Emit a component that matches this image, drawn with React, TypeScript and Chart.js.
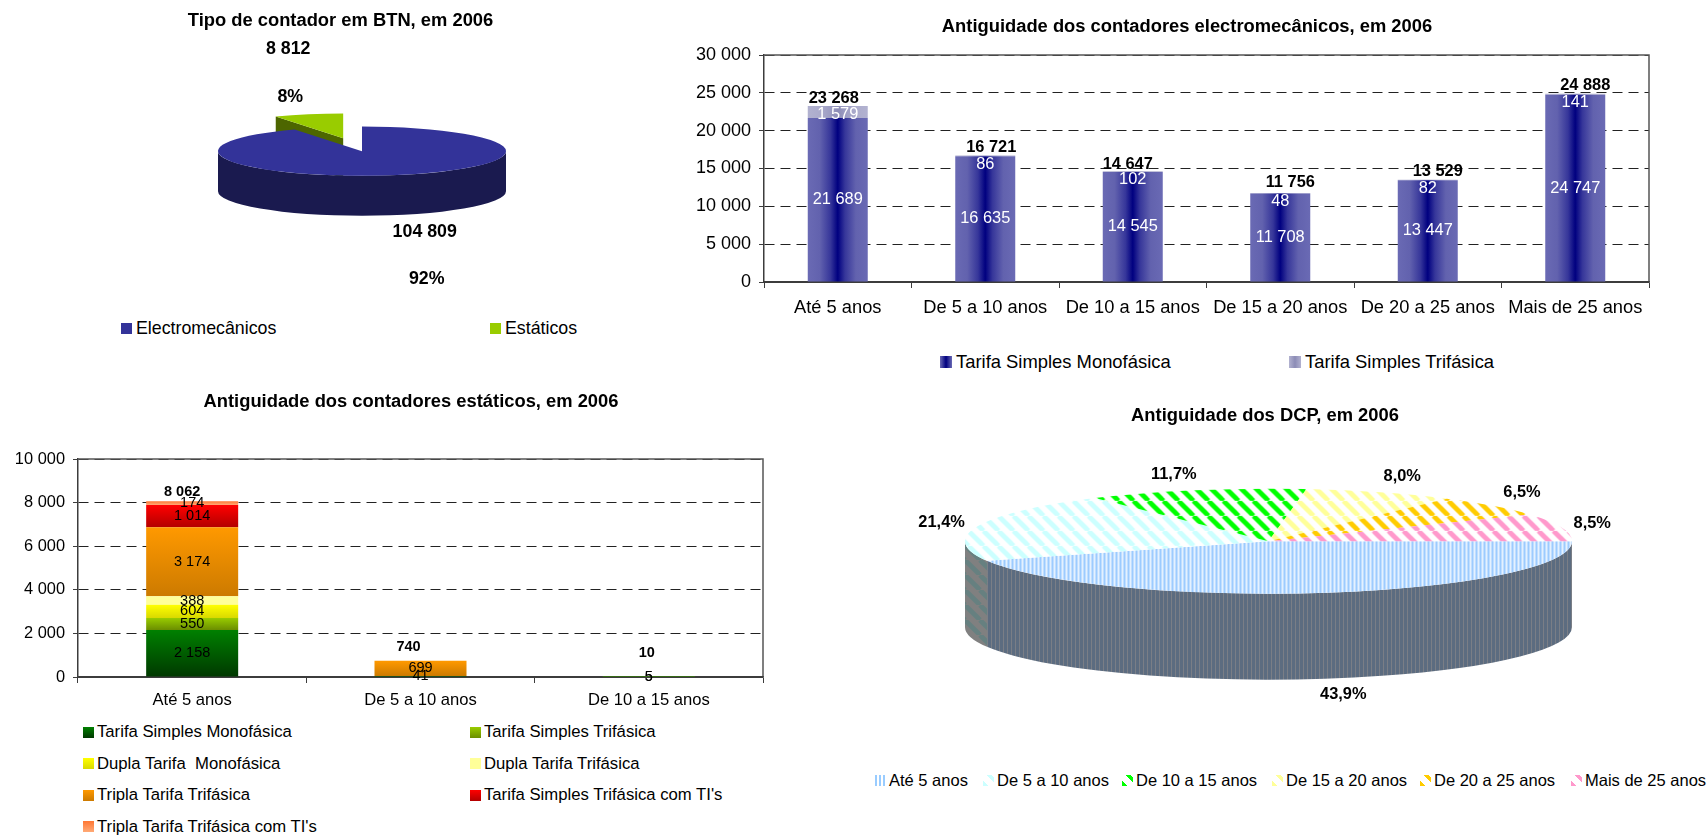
import { useEffect, useRef } from 'react';
import { Chart, registerables } from 'chart.js';

Chart.register(...registerables);

// ---- data ----
const meterTypes = ['Electromecânicos', 'Estáticos'];
const meterTypeCounts = [104809, 8812];

const electroBands = ['Até 5 anos', 'De 5 a 10 anos', 'De 10 a 15 anos', 'De 15 a 20 anos', 'De 20 a 25 anos', 'Mais de 25 anos'];
const electroSeriesNames = ['Tarifa Simples Monofásica', 'Tarifa Simples Trifásica'];
const electroMono = [21689, 16635, 14545, 11708, 13447, 24747];
const electroTri = [1579, 86, 102, 48, 82, 141];
const electroTotals = [23268, 16721, 14647, 11756, 13529, 24888];

const staticBands = ['Até 5 anos', 'De 5 a 10 anos', 'De 10 a 15 anos'];
const staticSeriesNames = [
  'Tarifa Simples Monofásica',
  'Tarifa Simples Trifásica',
  'Dupla Tarifa  Monofásica',
  'Dupla Tarifa Trifásica',
  'Tripla Tarifa Trifásica',
  "Tarifa Simples Trifásica com TI's",
  "Tripla Tarifa Trifásica com TI's",
];
const staticSimpleMono = [2158, 41, 5];
const staticSimpleTri = [550, 0, 0];
const staticDualMono = [604, 0, 0];
const staticDualTri = [388, 0, 0];
const staticTripleTri = [3174, 699, 5];
const staticSimpleTriTI = [1014, 0, 0];
const staticTripleTriTI = [174, 0, 0];
const staticTotals = [8062, 740, 10];

const dcpBands = ['Até 5 anos', 'De 5 a 10 anos', 'De 10 a 15 anos', 'De 15 a 20 anos', 'De 20 a 25 anos', 'Mais de 25 anos'];
const dcpShares = [43.9, 21.4, 11.7, 8.0, 6.5, 8.5];

// ---- styles ----
const FONT = '"Liberation Sans", Arial, sans-serif';
const TITLE_SIZE = 18.35;
const AXIS_COLOR = '#3c3c3c';

// Colour ramps from a bar's edge to its centre line.
const electroRamps = [
  ['#6A6AB4', '#6262AE', '#36369A', '#000080'],
  ['#B2B2D0', '#ACACCC', '#9C9CC2', '#8C8CB6'],
];
const rampStops = [0, 0.2, 0.38, 0.5];
const staticGradients = [
  ['#008000', '#003800'],
  ['#99CC00', '#6B8E00'],
  ['#FFFF00', '#D9D900'],
  ['#FFFF99', '#FFFF99'],
  ['#FF9900', '#CC7A00'],
  ['#FF0000', '#B30000'],
  ['#FF7733', '#FFAA77'],
];
const dcpStripeColors = ['#A3CFFF', '#CCFFFF', '#00FF00', '#FFFF99', '#FFCC00', '#FF99CC'];
const dcpWallColors = ['#5C6C80', '#668080', '#008000', '#808040', '#806600', '#804C66'];

// Where each pie label sits relative to its slice's point on the rim.
const meterLabelOffsets = [
  [[28, 57], [30, 104]],
  [[-39, -78], [-37, -30]],
];
const dcpLabelOffsets = [[17, 102], [-36, -4], [-22, -16], [22, -16], [29, -13], [31, -4]];
const electroTotalNudge = [[-4, -7.5], [6, -8.5], [-5, -6.5], [10, -10.5], [10, -8.5], [10, -8.5]];
const staticTotalNudge = [[-10, -9.5], [-12, -13.5], [-2, -23.5]];

const spaced = (n: number) => String(n).replace(/\B(?=(\d{3})+$)/g, ' ');

function stripeTile(draw: (t: CanvasRenderingContext2D, size: number) => void, size: number) {
  const tile = document.createElement('canvas');
  tile.width = size;
  tile.height = size;
  draw(tile.getContext('2d') as CanvasRenderingContext2D, size);
  return tile;
}

function diagonalPattern(ctx: CanvasRenderingContext2D, fg: string, bg: string, yScale = 1) {
  const tile = stripeTile((t, s) => {
    t.fillStyle = bg;
    t.fillRect(0, 0, s, s);
    t.strokeStyle = fg;
    t.lineWidth = 4.8;
    for (let k = -1; k <= 1; k++) {
      t.beginPath();
      t.moveTo(k * s, 0);
      t.lineTo(k * s + s, s);
      t.stroke();
    }
  }, 15);
  const p = ctx.createPattern(tile, 'repeat') as CanvasPattern;
  p.setTransform(new DOMMatrix().scale(1, yScale));
  return p;
}

function verticalPattern(ctx: CanvasRenderingContext2D, a: string, b: string, aWidth: number, yScale = 1) {
  const tile = stripeTile((t, s) => {
    t.fillStyle = b;
    t.fillRect(0, 0, s, s);
    t.fillStyle = a;
    t.fillRect(0, 0, aWidth, s);
  }, 4);
  const p = ctx.createPattern(tile, 'repeat') as CanvasPattern;
  p.setTransform(new DOMMatrix().scale(1, yScale));
  return p;
}

// Draws a pie controller's slices as a tilted disc with a visible wall below it.
function tiltedPie(o: {
  ratio: number;
  depth: number;
  shiftX: number;
  explode: number[];
  wall: (i: number) => string | CanvasPattern;
  labels: (i: number) => { text: string; dx: number; dy: number }[];
  fontSize: number;
}) {
  return {
    id: 'tiltedPie',
    beforeDatasetDraw(chart: any, args: any) {
      const ctx = chart.ctx as CanvasRenderingContext2D;
      const arcs = args.meta.data;
      const order = arcs.map((_: any, i: number) => i).sort((a: number, b: number) => o.explode[b] - o.explode[a]);
      order.forEach((i: number) => {
        const arc = arcs[i];
        const start = arc.startAngle;
        const end = arc.endAngle;
        const half = (start + end) / 2;
        const R = arc.outerRadius;
        const r = R * o.ratio;
        const ox = arc.x + o.shiftX + Math.cos(half) * o.explode[i];
        const oy = arc.y + Math.sin(half) * o.explode[i] * o.ratio;
        ctx.save();
        ctx.fillStyle = o.wall(i);
        if (o.explode[i] > 0) {
          [start, end].forEach((t: number) => {
            const px = ox + R * Math.cos(t);
            const py = oy + r * Math.sin(t);
            ctx.beginPath();
            ctx.moveTo(ox, oy);
            ctx.lineTo(px, py);
            ctx.lineTo(px, py + o.depth);
            ctx.lineTo(ox, oy + o.depth);
            ctx.closePath();
            ctx.fill();
          });
        }
        for (let k = -1; k <= 1; k++) {
          const a = Math.max(start + k * 2 * Math.PI, 0);
          const b = Math.min(end + k * 2 * Math.PI, Math.PI);
          if (b > a) {
            ctx.beginPath();
            ctx.ellipse(ox, oy, R, r, 0, a, b);
            ctx.ellipse(ox, oy + o.depth, R, r, 0, b, a, true);
            ctx.closePath();
            ctx.fill();
          }
        }
        ctx.translate(ox, oy);
        ctx.scale(1, o.ratio);
        ctx.translate(-arc.x, -arc.y);
        arc.draw(ctx);
        ctx.restore();
      });
      return false;
    },
    afterDraw(chart: any) {
      const ctx = chart.ctx as CanvasRenderingContext2D;
      const arcs = chart.getDatasetMeta(0).data;
      ctx.save();
      ctx.fillStyle = '#000';
      ctx.font = `bold ${o.fontSize}px ${FONT}`;
      ctx.textAlign = 'center';
      ctx.textBaseline = 'middle';
      arcs.forEach((arc: any, i: number) => {
        const half = (arc.startAngle + arc.endAngle) / 2;
        const rimX = arc.x + o.shiftX + arc.outerRadius * Math.cos(half);
        const rimY = arc.y + arc.outerRadius * o.ratio * Math.sin(half);
        o.labels(i).forEach((l) => ctx.fillText(l.text, rimX + l.dx, rimY + l.dy));
      });
      ctx.restore();
    },
  };
}

// Closes the plot area on its top and right sides and firms up the baseline.
const plotFrame = {
  id: 'plotFrame',
  beforeDatasetsDraw(chart: any) {
    const { ctx, chartArea: a } = chart;
    ctx.save();
    ctx.strokeStyle = '#555';
    ctx.lineWidth = 1.5;
    ctx.beginPath();
    ctx.moveTo(a.left, a.top);
    ctx.lineTo(a.right, a.top);
    ctx.lineTo(a.right, a.bottom);
    ctx.stroke();
    ctx.strokeStyle = AXIS_COLOR;
    ctx.lineWidth = 2;
    ctx.beginPath();
    ctx.moveTo(a.left, a.bottom);
    ctx.lineTo(a.right, a.bottom);
    ctx.stroke();
    ctx.restore();
  },
};

// Moves the title sideways without touching the plot area.
function titleShift(dx: number) {
  return {
    id: 'titleShift',
    afterLayout(chart: any) {
      chart.titleBlock.left += dx;
      chart.titleBlock.right += dx;
    },
  };
}

// Writes each segment's value inside it and the stack total above it.
function stackLabels(o: {
  color: string;
  fontSize: number;
  thinLimit: number;
  thinDrop: number;
  totals: number[];
  nudge: number[][];
}) {
  return {
    id: 'stackLabels',
    afterDatasetsDraw(chart: any) {
      const ctx = chart.ctx as CanvasRenderingContext2D;
      ctx.save();
      ctx.textAlign = 'center';
      ctx.textBaseline = 'middle';
      ctx.font = `${o.fontSize}px ${FONT}`;
      ctx.fillStyle = o.color;
      chart.data.datasets.forEach((ds: any, d: number) => {
        chart.getDatasetMeta(d).data.forEach((bar: any, i: number) => {
          const v = ds.data[i];
          if (!v) return;
          const h = Math.abs(bar.base - bar.y);
          const y = h < o.thinLimit ? bar.y + o.thinDrop : (bar.y + bar.base) / 2;
          ctx.fillText(spaced(v), bar.x, y);
        });
      });
      ctx.font = `bold ${o.fontSize}px ${FONT}`;
      ctx.fillStyle = '#000';
      o.totals.forEach((t, i) => {
        const x = chart.scales.x.getPixelForValue(i) + o.nudge[i][0];
        const y = chart.scales.y.getPixelForValue(t) + o.nudge[i][1];
        ctx.fillText(spaced(t), x, y);
      });
      ctx.restore();
    },
  };
}

function titleOptions(text: string, top: number, bottom: number) {
  return {
    display: true,
    text,
    color: '#000',
    font: { family: FONT, size: TITLE_SIZE, weight: 'bold' as const, lineHeight: 1.2 },
    padding: { top, bottom },
  };
}

function barScales(o: { max: number; step: number; font: number; xFont: number; yWidth: number; xHeight: number; xPad: number }) {
  return {
    x: {
      stacked: true,
      afterFit: (s: any) => { s.height = o.xHeight; },
      border: { color: AXIS_COLOR, width: 1.5 },
      grid: { drawOnChartArea: false, tickLength: 6, tickColor: AXIS_COLOR, offset: true },
      ticks: { color: '#000', padding: o.xPad, maxRotation: 0, autoSkip: false, font: { family: FONT, size: o.xFont } },
    },
    y: {
      stacked: true,
      min: 0,
      max: o.max,
      afterFit: (s: any) => { s.width = o.yWidth; },
      border: { color: AXIS_COLOR, width: 1.5, dash: [10, 6] },
      grid: { color: '#222', lineWidth: 1, tickLength: 5, tickColor: AXIS_COLOR, tickBorderDash: [1, 0] },
      ticks: { stepSize: o.step, color: '#000', padding: 8, font: { family: FONT, size: o.font }, callback: (v: any) => spaced(Number(v)) },
    },
  };
}

function MeterTypePie() {
  return (
    <ChartCanvas
      left={0} top={0} width={681} height={300}
      build={() => ({
        type: 'pie',
        data: {
          labels: meterTypes,
          datasets: [{ data: meterTypeCounts, backgroundColor: ['#333399', '#99CC00'], borderWidth: 0 }],
        },
        options: {
          responsive: false,
          animation: false,
          events: [],
          radius: 144,
          layout: { padding: { bottom: 29.7 } },
          plugins: {
            legend: { display: false },
            tooltip: { enabled: false },
            title: titleOptions('Tipo de contador em BTN, em 2006', 10, 0),
          },
        },
        plugins: [tiltedPie({
          ratio: 0.171,
          depth: 40,
          shiftX: 21.5,
          explode: [0, 78],
          wall: (i) => ['#1A1A4F', '#4D6600'][i],
          fontSize: 17.8,
          labels: (i) => {
            const total = meterTypeCounts[0] + meterTypeCounts[1];
            const texts = [spaced(meterTypeCounts[i]), `${Math.round((meterTypeCounts[i] / total) * 100)}%`];
            return texts.map((text, k) => ({ text, dx: meterLabelOffsets[i][k][0], dy: meterLabelOffsets[i][k][1] }));
          },
        })],
      })}
    />
  );
}

function ElectroBars() {
  const pct = 60 / 147.5;
  const fill = (series: number) => (c: any) => {
    const ramp = electroRamps[series];
    if (c.dataIndex === undefined || !c.chart.chartArea) return ramp[0];
    const x = c.chart.scales.x;
    const cx = x.getPixelForValue(c.dataIndex);
    const half = (x.width / electroBands.length) * pct * 0.5;
    const g = c.chart.ctx.createLinearGradient(cx - half, 0, cx + half, 0);
    ramp.forEach((color, k) => {
      g.addColorStop(rampStops[k], color);
      g.addColorStop(1 - rampStops[k], color);
    });
    return g;
  };
  return (
    <ChartCanvas
      left={690} top={0} width={1000} height={330}
      build={() => ({
        type: 'bar',
        data: {
          labels: electroBands,
          datasets: [
            { label: electroSeriesNames[0], data: electroMono, backgroundColor: fill(0), borderWidth: 0, barPercentage: pct, categoryPercentage: 1 },
            { label: electroSeriesNames[1], data: electroTri, backgroundColor: fill(1), borderWidth: 0, barPercentage: pct, categoryPercentage: 1 },
          ],
        },
        options: {
          responsive: false,
          animation: false,
          events: [],
          layout: { padding: { right: 41 } },
          scales: barScales({ max: 30000, step: 5000, font: 18, xFont: 18.3, yWidth: 74, xHeight: 48, xPad: 9 }),
          plugins: {
            legend: { display: false },
            tooltip: { enabled: false },
            title: titleOptions('Antiguidade dos contadores electromecânicos, em 2006', 16, 17),
          },
        },
        plugins: [titleShift(17.5), plotFrame, stackLabels({ color: '#fff', fontSize: 16.4, thinLimit: 14, thinDrop: 8.5, totals: electroTotals, nudge: electroTotalNudge })],
      })}
    />
  );
}

function StaticBars() {
  const pct = 92 / 228.3;
  const seriesData = [staticSimpleMono, staticSimpleTri, staticDualMono, staticDualTri, staticTripleTri, staticSimpleTriTI, staticTripleTriTI];
  const fill = (series: number) => (c: any) => {
    const [topColor, bottomColor] = staticGradients[series];
    if (c.dataIndex === undefined || !c.chart.chartArea) return topColor;
    let below = 0;
    for (let s = 0; s < series; s++) below += seriesData[s][c.dataIndex];
    const y = c.chart.scales.y;
    const y0 = y.getPixelForValue(below + seriesData[series][c.dataIndex]);
    const y1 = y.getPixelForValue(below);
    if (y1 - y0 < 0.01) return topColor;
    const g = c.chart.ctx.createLinearGradient(0, y0, 0, y1);
    g.addColorStop(0, topColor);
    g.addColorStop(1, bottomColor);
    return g;
  };
  return (
    <ChartCanvas
      left={0} top={380} width={800} height={340}
      build={() => ({
        type: 'bar',
        data: {
          labels: staticBands,
          datasets: seriesData.map((data, s) => ({
            label: staticSeriesNames[s],
            data,
            backgroundColor: fill(s),
            borderWidth: 0,
            barPercentage: pct,
            categoryPercentage: 1,
          })),
        },
        options: {
          responsive: false,
          animation: false,
          events: [],
          layout: { padding: { right: 37 } },
          scales: barScales({ max: 10000, step: 2000, font: 16.4, xFont: 16.6, yWidth: 78, xHeight: 43, xPad: 7.4 }),
          plugins: {
            legend: { display: false },
            tooltip: { enabled: false },
            title: titleOptions('Antiguidade dos contadores estáticos, em 2006', 11, 46),
          },
        },
        plugins: [titleShift(29.5), plotFrame, stackLabels({ color: '#000', fontSize: 14.5, thinLimit: 0, thinDrop: 0, totals: staticTotals, nudge: staticTotalNudge })],
      })}
    />
  );
}

function DcpPie() {
  const ratio = 0.173;
  return (
    <ChartCanvas
      left={860} top={395} width={810} height={310}
      build={(ctx) => {
        const squash = 1 / ratio;
        const tops = dcpStripeColors.map((color, i) =>
          i === 0 ? verticalPattern(ctx, '#9CCBFF', '#E4F1FF', 2, squash) : diagonalPattern(ctx, color, '#FFFFFF', squash),
        );
        const walls = dcpWallColors.map((color, i) =>
          i === 0 ? verticalPattern(ctx, '#5C6C80', '#7A7E86', 3) : diagonalPattern(ctx, color, '#808080'),
        );
        return {
          type: 'pie',
          data: { labels: dcpBands, datasets: [{ data: dcpShares, backgroundColor: tops, borderWidth: 0 }] },
          options: {
            responsive: false,
            animation: false,
            events: [],
            radius: 303.5,
            rotation: 90,
            layout: { padding: { bottom: 49.7 } },
            plugins: {
              legend: { display: false },
              tooltip: { enabled: false },
              title: titleOptions('Antiguidade dos DCP, em 2006', 10, 0),
            },
          },
          plugins: [tiltedPie({
            ratio,
            depth: 86,
            shiftX: 3.5,
            explode: dcpShares.map(() => 0),
            wall: (i) => walls[i],
            fontSize: 16.4,
            labels: (i) => [{
              text: `${dcpShares[i].toFixed(1).replace('.', ',')}%`,
              dx: dcpLabelOffsets[i][0],
              dy: dcpLabelOffsets[i][1],
            }],
          })],
        };
      }}
    />
  );
}

function ChartCanvas(p: { left: number; top: number; width: number; height: number; build: (ctx: CanvasRenderingContext2D) => any }) {
  const ref = useRef<HTMLCanvasElement | null>(null);
  useEffect(() => {
    const canvas = ref.current as HTMLCanvasElement;
    const chart = new Chart(canvas, p.build(canvas.getContext('2d') as CanvasRenderingContext2D));
    return () => chart.destroy();
  }, []);
  return (
    <canvas
      ref={ref}
      width={p.width}
      height={p.height}
      style={{ position: 'absolute', left: p.left, top: p.top, width: p.width, height: p.height }}
    />
  );
}

function LegendEntry(p: { x: number; y: number; size: number; gap: number; swatch: string; text: string; font: number }) {
  return (
    <>
      <div style={{ position: 'absolute', left: p.x, top: p.y - p.size / 2, width: p.size, height: p.size, background: p.swatch }} />
      <div
        style={{
          position: 'absolute',
          left: p.x + p.gap,
          top: p.y,
          transform: 'translateY(-50%)',
          font: `${p.font}px ${FONT}`,
          color: '#000',
          whiteSpace: 'pre',
        }}
      >
        {p.text}
      </div>
    </>
  );
}

const dcpSwatches = [
  'repeating-linear-gradient(90deg, #99CCFF 0 2px, #fff 2px 4px)',
  'repeating-linear-gradient(45deg, #CCFFFF 0 4px, #fff 4px 10px)',
  'repeating-linear-gradient(45deg, #00FF00 0 4px, #fff 4px 10px)',
  'repeating-linear-gradient(45deg, #FFFF99 0 4px, #fff 4px 10px)',
  'repeating-linear-gradient(45deg, #FFCC00 0 4px, #fff 4px 10px)',
  'repeating-linear-gradient(45deg, #FF99CC 0 4px, #fff 4px 10px)',
];
const dcpLegendX = [875, 983, 1122, 1272, 1420, 1571];

export default function App() {
  return (
    <div style={{ position: 'absolute', left: 0, top: 0, width: 1708, height: 836, background: '#fff', overflow: 'hidden' }}>
      <MeterTypePie />
      <ElectroBars />
      <StaticBars />
      <DcpPie />

      {meterTypes.map((name, i) => (
        <LegendEntry key={name} x={[121, 490][i]} y={328} size={11} gap={15} font={17.8} swatch={['#333399', '#99CC00'][i]} text={name} />
      ))}
      {electroSeriesNames.map((name, i) => (
        <LegendEntry
          key={name}
          x={[940, 1289][i]} y={362} size={12} gap={16} font={18.4}
          swatch={`linear-gradient(90deg, ${electroRamps[i][0]}, ${electroRamps[i][3]}, ${electroRamps[i][0]})`}
          text={name}
        />
      ))}
      {staticSeriesNames.map((name, i) => (
        <LegendEntry
          key={name}
          x={[83, 470][i % 2]} y={732 + 31.5 * Math.floor(i / 2)} size={11} gap={14} font={16.7}
          swatch={`linear-gradient(180deg, ${staticGradients[i][0]}, ${staticGradients[i][1]})`}
          text={name}
        />
      ))}
      {dcpBands.map((name, i) => (
        <LegendEntry key={name} x={dcpLegendX[i]} y={780} size={11} gap={14} font={16.5} swatch={dcpSwatches[i]} text={name} />
      ))}
    </div>
  );
}
